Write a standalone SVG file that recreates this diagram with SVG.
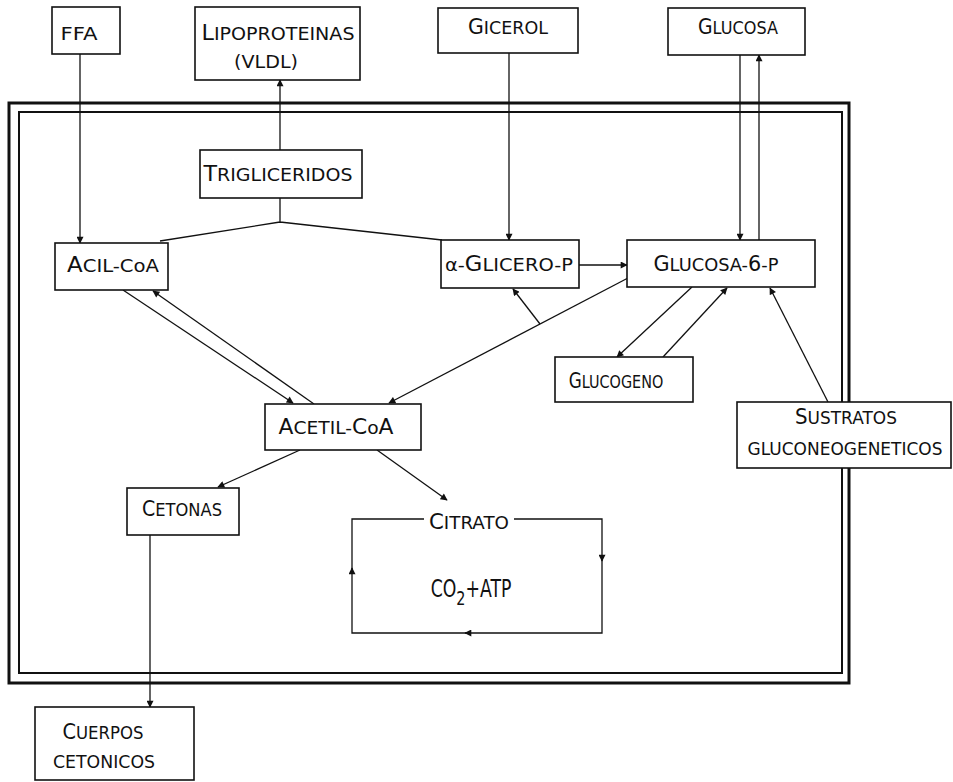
<svg xmlns="http://www.w3.org/2000/svg" width="953" height="782" viewBox="0 0 953 782">
<defs>
<marker id="ah" viewBox="0 0 10 10" refX="9" refY="5" markerWidth="8" markerHeight="7" markerUnits="userSpaceOnUse" orient="auto">
<path d="M0,0 L10,5 L0,10 Z" fill="#111"/>
</marker>
<style>
.box{fill:#fff;stroke:#111;stroke-width:1.6}
.c{fill:none;stroke:#111;stroke-width:1.3}
.a{fill:none;stroke:#111;stroke-width:1.3;marker-end:url(#ah)}
.t{font-family:"DejaVu Sans","Liberation Sans",sans-serif;font-size:18px;fill:#111;text-anchor:middle}
.b{font-size:21px}
.big{font-size:24px}
.sub{font-size:20px}
</style>
</defs>
<rect width="953" height="782" fill="#fff"/>
<g id="border">
<rect x="9" y="103" width="840" height="580" fill="none" stroke="#111" stroke-width="3"/>
<rect x="19" y="112" width="823" height="561" fill="none" stroke="#111" stroke-width="2"/>
</g>
<g id="connectors">
<path class="a" d="M80,54 V243"/>
<path class="a" d="M280,150 V80"/>
<path class="c" d="M280,198 V222 M280,222 L160,241 M280,222 L442,240"/>
<path class="a" d="M509,53 V240"/>
<path class="a" d="M740,55 V240"/>
<path class="a" d="M759,240 V55"/>
<path class="a" d="M579,265 H627"/>
<path class="a" d="M628,278 L389,403"/>
<path class="a" d="M540,324 L513,289"/>
<path class="a" d="M692,287 L617,357"/>
<path class="a" d="M663,357 L727,288"/>
<path class="a" d="M828,402 L770,288"/>
<path class="a" d="M123,290 L293,403"/>
<path class="a" d="M314,404 L153,291"/>
<path class="a" d="M300,450 L218,487"/>
<path class="a" d="M377,450 L447,500"/>
<path class="a" d="M150,535 V707"/>
<path class="a" d="M514,519 H602 V561"/>
<path class="a" d="M602,556 V633 H465"/>
<path class="a" d="M470,633 H352 V568"/>
<path class="c" d="M352,573 V519 H424"/>
</g>
<g id="ffa"><rect class="box" x="52" y="7" width="68" height="47"/><text class="t" x="79" y="40" textLength="37" lengthAdjust="spacingAndGlyphs">FFA</text></g>
<g id="lipoproteinas"><rect class="box" x="195" y="7" width="165" height="73"/><text class="t" x="278" y="40" textLength="153" lengthAdjust="spacingAndGlyphs"><tspan class="b">L</tspan>IPOPROTEINAS</text><text class="t" x="266" y="68" textLength="64" lengthAdjust="spacingAndGlyphs">(VLDL)</text></g>
<g id="gicerol"><rect class="box" x="438" y="8" width="140" height="45"/><text class="t" x="508" y="34" textLength="80" lengthAdjust="spacingAndGlyphs"><tspan class="b">G</tspan>ICEROL</text></g>
<g id="glucosa"><rect class="box" x="668" y="8" width="137" height="47"/><text class="t" x="738" y="34" textLength="80" lengthAdjust="spacingAndGlyphs"><tspan class="b">G</tspan>LUCOSA</text></g>
<g id="trigliceridos"><rect class="box" x="200" y="150" width="162" height="48"/><text class="t" x="278" y="181" textLength="149" lengthAdjust="spacingAndGlyphs"><tspan class="b">T</tspan>RIGLICERIDOS</text></g>
<g id="acil-coa"><rect class="box" x="55" y="243" width="113" height="47"/><text class="t" x="113" y="272" textLength="92" lengthAdjust="spacingAndGlyphs"><tspan class="b">A</tspan>CIL-CoA</text></g>
<g id="glicero-p"><rect class="box" x="441" y="240" width="138" height="48"/><text class="t" x="509" y="271" textLength="128" lengthAdjust="spacingAndGlyphs">α-<tspan class="b">G</tspan>LICERO-P</text></g>
<g id="glucosa-6-p"><rect class="box" x="627" y="240" width="188" height="47"/><text class="t" x="716" y="271" textLength="125" lengthAdjust="spacingAndGlyphs"><tspan class="b">G</tspan>LUCOSA-<tspan class="b">6</tspan>-P</text></g>
<g id="glucogeno"><rect class="box" x="555" y="357" width="138" height="45"/><text class="t" transform="translate(616,388) scale(0.8,1)" x="0" y="0"><tspan class="b">G</tspan>LUCOGENO</text></g>
<g id="sustratos"><rect class="box" x="737" y="402" width="214" height="66"/><text class="t" x="846" y="424" textLength="102" lengthAdjust="spacingAndGlyphs"><tspan class="b">S</tspan>USTRATOS</text><text class="t" x="845" y="455" textLength="195" lengthAdjust="spacingAndGlyphs">GLUCONEOGENETICOS</text></g>
<g id="acetil-coa"><rect class="box" x="265" y="404" width="156" height="46"/><text class="t" x="336" y="434" textLength="115" lengthAdjust="spacingAndGlyphs"><tspan class="b">A</tspan>CETIL-<tspan class="b">C</tspan>o<tspan class="b">A</tspan></text></g>
<g id="cetonas"><rect class="box" x="127" y="488" width="112" height="47"/><text class="t" x="182" y="516" textLength="80" lengthAdjust="spacingAndGlyphs"><tspan class="b">C</tspan>ETONAS</text></g>
<g id="citrato"><text class="t" x="469" y="529" textLength="80" lengthAdjust="spacingAndGlyphs"><tspan class="b">C</tspan>ITRATO</text><text class="t big" transform="translate(471,597) scale(0.72,1)" x="0" y="0">CO<tspan class="sub" dy="8">2</tspan><tspan class="big" dy="-8">+ATP</tspan></text></g>
<g id="cuerpos-cetonicos"><rect class="box" x="35" y="707" width="159" height="73"/><text class="t" x="103" y="739" textLength="81" lengthAdjust="spacingAndGlyphs"><tspan class="b">C</tspan>UERPOS</text><text class="t" x="104" y="768" textLength="102" lengthAdjust="spacingAndGlyphs">CETONICOS</text></g>
</svg>
